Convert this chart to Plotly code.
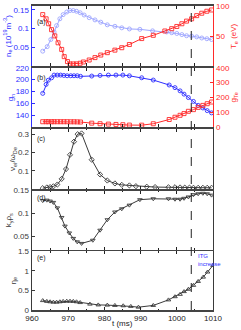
import plotly.graph_objects as go

# ---------------- data ----------------
t_ne = [962.96, 964.2, 965.2, 966.1, 966.8, 967.7, 968.6, 969.6, 970.5, 971.4, 972.3, 973.3,
        974.4, 975.8, 977.4, 979.0, 980.8, 982.9, 984.8, 986.9, 989.8, 993.3, 997.2, 998.6,
        1000.0, 1001.4, 1002.7, 1004.1, 1005.5, 1006.9, 1008.3, 1009.6]
ne = [0.040, 0.052, 0.071, 0.091, 0.108, 0.126, 0.137, 0.144, 0.148, 0.148, 0.146, 0.142,
      0.136, 0.129, 0.123, 0.117, 0.110, 0.106, 0.102, 0.099, 0.098, 0.094, 0.091, 0.089,
      0.087, 0.084, 0.081, 0.080, 0.078, 0.075, 0.073, 0.071]

t_te = [962.96, 963.9, 964.6, 965.4, 966.3, 967.2, 968.2, 968.9, 969.8, 970.5, 971.4, 972.3,
        973.3, 974.2, 975.8, 977.4, 979.0, 980.8, 982.9, 984.8, 986.9, 990.3, 993.5, 996.7,
        998.6, 1000.0, 1001.4, 1002.7, 1004.1, 1005.5, 1006.9, 1008.3, 1009.6]
te = [85.7, 78.7, 70.5, 60.7, 50.3, 38.9, 27.9, 15.9, 7.7, 3.8, 3.8, 3.8,
      4.9, 7.0, 10.3, 14.3, 18.5, 22.5, 26.7, 30.7, 36.0, 45.9, 51.3, 58.5,
      62.3, 66.0, 70.5, 74.9, 78.7, 84.0, 88.0, 91.3, 93.4]

t_g = [962.96, 963.9, 964.5, 965.4, 966.1, 967.0, 967.9, 968.8, 969.7, 970.7, 971.6, 972.5,
       973.4, 976.5, 978.8, 981.1, 983.2, 985.1, 986.9, 990.3, 993.5, 997.9, 999.5, 1000.9,
       1002.0, 1003.2, 1004.6, 1005.9, 1007.2, 1008.4, 1009.6]
gn = [177, 192, 199, 203, 207.6, 207.6, 207.6, 207, 206.5, 206.5, 206.5, 206.5,
      205.5, 206, 207, 207.6, 207.6, 207.6, 206.4, 203.1, 199.3, 191, 186.6, 181.2,
      175.7, 170, 163.5, 156.9, 152.6, 148.1, 144.3]
gte = [38, 38, 38, 38, 38, 38, 38, 38, 38, 37.5, 37.5, 37, 36,
       28.4, 24.5, 22, 19.8, 18, 15.5, 15, 24.5, 52.9, 68, 81,
       92.6, 107.8, 119, 134, 147.4, 158.7, 170]

t_nu = [962.96, 964.1, 965.0, 965.9, 967.0, 968.2, 969.4, 970.5, 971.6, 972.6, 973.7, 976.5,
        978.8, 980.8, 982.9, 984.8, 986.9, 988.7, 991.7, 994.0, 997.7, 999.5, 1000.9, 1002.2,
        1003.5, 1004.6, 1005.9, 1007.2, 1008.4, 1009.6]
nu = [0.005, 0.009, 0.011, 0.015, 0.025, 0.056, 0.110, 0.188, 0.260, 0.301, 0.305, 0.161,
      0.080, 0.047, 0.031, 0.023, 0.020, 0.016, 0.013, 0.011, 0.010, 0.010, 0.009, 0.008,
      0.008, 0.007, 0.007, 0.007, 0.007, 0.007]

t_ky = [962.96, 964.1, 965.0, 965.9, 967.0, 968.2, 969.1, 970.3, 971.4, 972.5, 973.7, 976.8,
        978.8, 980.8, 982.9, 984.8, 986.9, 989.8, 993.5, 997.7, 999.5, 1000.9, 1002.0, 1003.2,
        1004.6, 1005.9, 1007.2, 1008.4, 1009.6]
ky = [0.128, 0.129, 0.127, 0.124, 0.112, 0.091, 0.072, 0.057, 0.045, 0.0375, 0.034, 0.041,
      0.063, 0.086, 0.103, 0.110, 0.118, 0.130, 0.132, 0.132, 0.131, 0.131, 0.133, 0.136,
      0.141, 0.143, 0.144, 0.143, 0.140]

t_eta = [962.96, 964.1, 965.0, 965.9, 966.8, 967.7, 968.6, 969.6, 970.5, 971.4, 972.3, 973.3,
         976.0, 978.3, 980.8, 982.9, 985.2, 987.3, 989.4, 993.5, 997.7, 999.5, 1000.9, 1002.0,
         1003.2, 1004.6, 1005.9, 1007.3, 1008.5, 1010.0]
eta = [0.24, 0.22, 0.21, 0.20, 0.20, 0.21, 0.22, 0.225, 0.225, 0.22, 0.21, 0.19,
       0.15, 0.13, 0.125, 0.117, 0.108, 0.092, 0.072, 0.117, 0.258, 0.34, 0.40, 0.47,
       0.53, 0.63, 0.73, 0.84, 0.97, 1.14]

t_itg = 1004.0
x_ticks = [960, 970, 980, 990, 1000, 1010]
panel_labels = ["(a)", "(b)", "(c)", "(d)", "(e)"]

# ---------------- styling ----------------
FONT = "Liberation Sans"
BLUE = "#2f2fff"
LBLUE = "#9ea6ff"
RED = "#ff2a2a"
DARK = "#3a3a3a"
FS = 8

H_TOTAL = 308.0
W_PLOT = 181.0
def py(px):  # pixel row -> paper y
    return (310 - px) / H_TOTAL
def px_x(px):  # pixel column -> paper x
    return (px - 32) / W_PLOT

doms = [[py(63), py(2)], [py(125), py(64.5)], [py(187.5), py(126.5)],
        [py(249), py(189)], [py(310), py(250.5)]]

fig = go.Figure()

def tr(x, y, xa, ya, color, sym, width=1):
    fig.add_trace(go.Scatter(
        x=x, y=y, xaxis=xa, yaxis=ya, mode="lines+markers",
        line=dict(color=color, width=width),
        marker=dict(symbol=sym, size=4, color=color, line=dict(width=0.9, color=color)),
        showlegend=False, hoverinfo="skip"))

tr(t_ne, ne, "x", "y", LBLUE, "circle-open")
tr(t_te, te, "x", "y2", RED, "square-open")
tr(t_g, gn, "x2", "y3", BLUE, "circle-open")
tr(t_g, gte, "x2", "y4", RED, "square-open")
tr(t_nu, nu, "x3", "y5", DARK, "diamond-open")
tr(t_ky, ky, "x4", "y6", DARK, "triangle-down-open")
tr(t_eta, eta, "x5", "y7", DARK, "triangle-up-open")

def xax(anchor, show):
    return dict(domain=[0, 1], anchor=anchor, range=[960, 1010], tickvals=x_ticks,
                showticklabels=show, ticks="inside", ticklen=3, tickcolor="#222",
                showline=True, linecolor="#444", linewidth=1.6, mirror="allticks",
                showgrid=False, zeroline=False,
                minor=dict(ticks="inside", ticklen=1.5, dtick=5, tickcolor="#222"),
                tickfont=dict(family=FONT, size=FS, color="#222"))

def yax(domain, rng, vals, color, title, side="left", overlay=None, anchor="x", mirror=False, texts=None):
    d = dict(domain=domain, range=rng, tickvals=vals, side=side, anchor=anchor,
             ticks="inside", ticklen=3, tickcolor=color,
             showline=True, linecolor=color, linewidth=1.4, mirror=mirror,
             showgrid=False, zeroline=False,
             tickfont=dict(family=FONT, size=FS, color=color))
    if title:
        d["title"] = dict(text=title, font=dict(family=FONT, size=FS, color=color), standoff=0)
    if texts is not None:
        d["ticktext"] = texts
    if overlay:
        d["overlaying"] = overlay
    return d

fig.update_layout(
    width=241, height=330,
    margin=dict(l=32, r=28, t=2, b=20),
    paper_bgcolor="white", plot_bgcolor="white",
    font=dict(family=FONT, size=FS),
    xaxis=xax("y", False), xaxis2=xax("y3", False), xaxis3=xax("y5", False),
    xaxis4=xax("y6", False), xaxis5=xax("y7", True),
    yaxis=yax(doms[0], [0, 0.16], [0.05, 0.1, 0.15], BLUE,
              "n<sub>e</sub> (10<sup>19</sup>m<sup>-3</sup>)", texts=["0.05", "0.1", "0.15"]),
    yaxis2=yax(doms[0], [0, 100], [50, 100], RED, None, side="right", overlay="y"),
    yaxis3=yax(doms[1], [120, 220], [140, 160, 180, 200, 220], BLUE, "g<sub>n</sub>", anchor="x2"),
    yaxis4=yax(doms[1], [0, 400], [0, 100, 200, 300, 400], RED, None, side="right",
               overlay="y3", anchor="x2"),
    yaxis5=yax(doms[2], [0, 0.33], [0.1, 0.2, 0.3], DARK, "ν<sub>ei</sub>/ω<sub>De</sub>",
               anchor="x3", mirror=True, texts=["0.1", "0.2", "0.3"]),
    yaxis6=yax(doms[3], [0.02, 0.15], [0.05, 0.1, 0.15], DARK, "k<sub>y</sub>ρ<sub>s</sub>",
               anchor="x4", mirror=True, texts=["0.05", "0.1", "0.15"]),
    yaxis7=yax(doms[4], [0, 1.5], [0, 0.5, 1, 1.5], DARK, "η<sub>e</sub>",
               anchor="x5", mirror=True, texts=["0", "0.5", "1", "1.5"]),
)

# right-hand axis titles (rotated, placed at the right edge)
fig.add_annotation(text="T<sub>e</sub> (eV)", xref="paper", yref="paper", x=px_x(234),
                   y=(doms[0][0] + doms[0][1]) / 2, textangle=-90, showarrow=False,
                   xanchor="center", yanchor="middle",
                   font=dict(family=FONT, size=FS, color=RED))
fig.add_annotation(text="g<sub>Te</sub>", xref="paper", yref="paper", x=px_x(234),
                   y=(doms[1][0] + doms[1][1]) / 2, textangle=-90, showarrow=False,
                   xanchor="center", yanchor="middle",
                   font=dict(family=FONT, size=FS, color=RED))

# x-axis title
fig.add_annotation(text="t (ms)", xref="paper", yref="paper", x=px_x(122), y=py(324),
                   showarrow=False, xanchor="center", yanchor="middle",
                   font=dict(family=FONT, size=FS, color="#222"))

# dashed vertical marker across all panels
fig.add_shape(type="line", xref="x", yref="paper", x0=t_itg, x1=t_itg, y0=0, y1=1,
              line=dict(color="#222", width=1, dash="dash"))

label_rows = [18, 75, 137, 197, 257.5]
for lab, row in zip(panel_labels, label_rows):
    fig.add_annotation(text=lab, xref="paper", yref="paper", x=px_x(35), y=py(row),
                       xanchor="left", yanchor="middle", showarrow=False,
                       font=dict(family=FONT, size=7, color="#222"))

fig.add_annotation(text="ITG<br>increase", xref="x5", yref="paper", x=t_itg + 1.2,
                   y=py(250), xanchor="left", yanchor="top", align="left",
                   showarrow=False, font=dict(family=FONT, size=6, color=BLUE))

# remove the browser's default page margin so the 241x330 figure fills the window
fig.write_html("out.html",
               config={"displayModeBar": False, "staticPlot": True},
               post_script="document.body.style.margin='0px';document.body.style.overflow='hidden';")
